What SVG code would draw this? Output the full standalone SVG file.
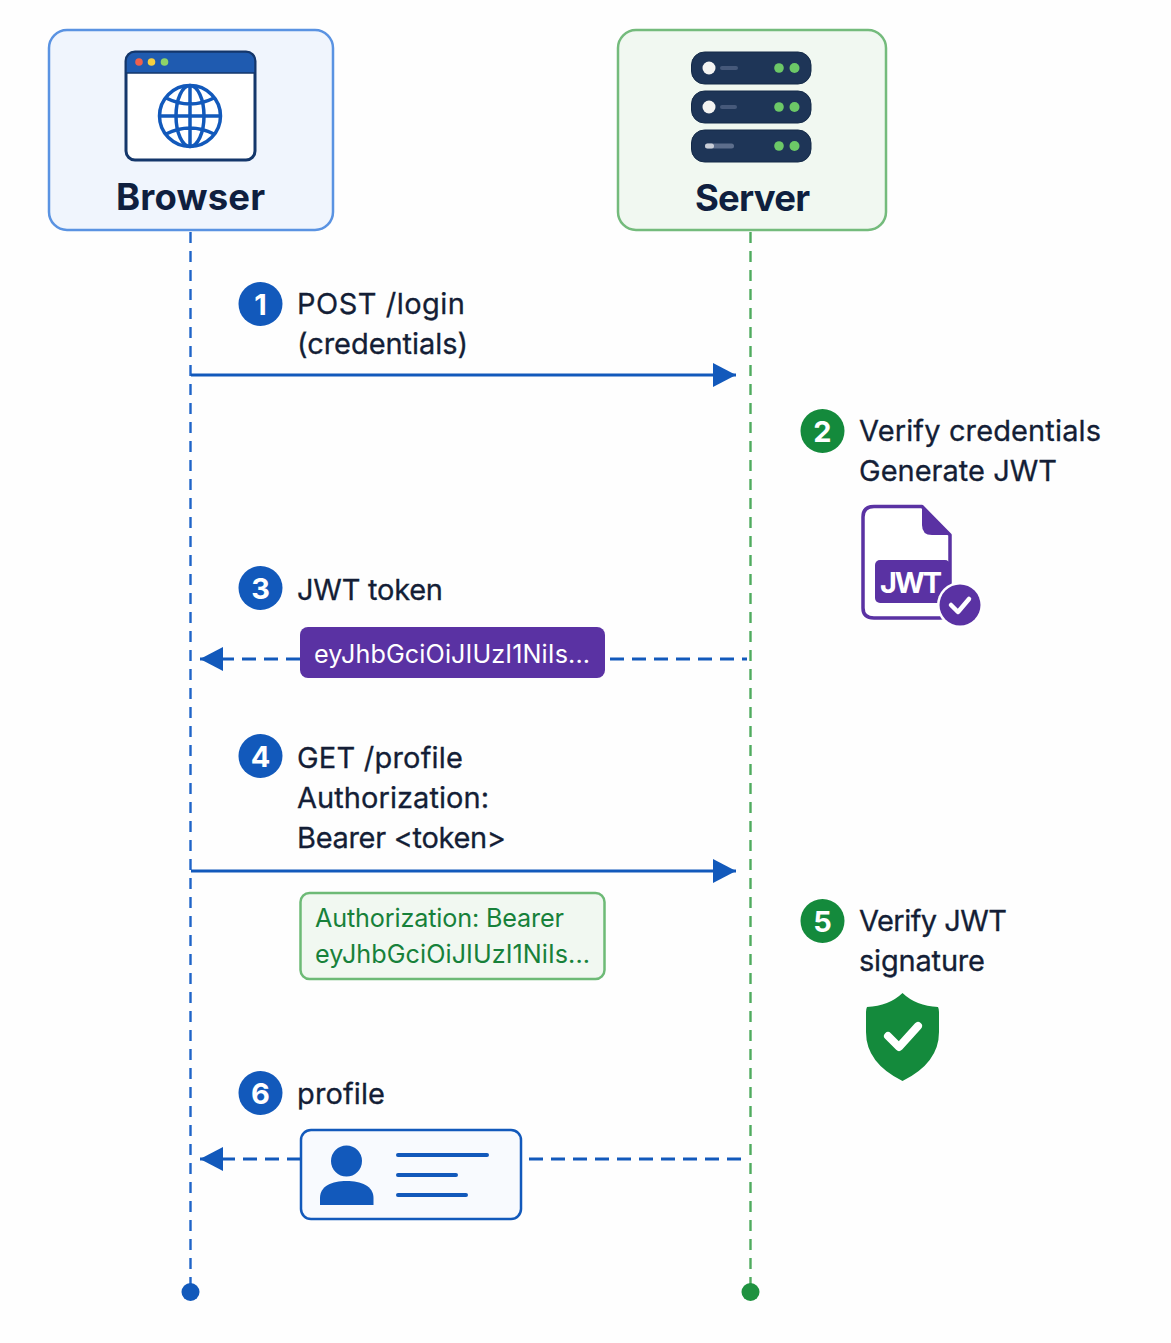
<svg xmlns="http://www.w3.org/2000/svg" width="1171" height="1343" viewBox="0 0 1171 1343">
<defs>
<style>
text{font-family:"Inter","Liberation Sans",sans-serif}
.t{font-size:29px;fill:#141e36;font-weight:400;stroke:#141e36;stroke-width:.3px;transform:translateY(-.5px)}
.h{font-size:36.500px;font-weight:700;fill:#0f1f3f;text-anchor:middle}
.n{font-size:29px;font-weight:700;fill:#fff;text-anchor:middle}
.m{font-size:25.200px}
.blue{fill:#1259bb}
.green{fill:#148a3c}
.solid{stroke:#1259bb;stroke-width:3;fill:none}
.dash{stroke:#1259bb;stroke-width:3;fill:none;stroke-dasharray:14 8}
.life{fill:none;stroke-width:2.400;stroke-dasharray:11 8}
</style>
<marker id="arrow" markerUnits="userSpaceOnUse" markerWidth="24" markerHeight="24" refX="23" refY="12" orient="auto-start-reverse"><path d="M0 0L23 12L0 24Z" fill="#1259bb"/></marker>
</defs>
<rect width="1171" height="1343" fill="#fefefe"/>
<g id="connectors">
<path class="life" d="M190.500 232V1285" stroke="#1f64c8"/>
<path class="life" d="M750.500 232V1285" stroke="#4fab5e"/>
<circle cx="190.500" cy="1292" r="9" fill="#1259bb"/>
<circle cx="750.500" cy="1292" r="9" fill="#1f9240"/>
<path class="solid" d="M191 375H736" marker-end="url(#arrow)"/>
<path class="dash" d="M300 659H200" marker-end="url(#arrow)"/>
<path class="dash" d="M610 659H747"/>
<path class="solid" d="M191 871H736" marker-end="url(#arrow)"/>
<path class="dash" d="M301 1159H200" marker-end="url(#arrow)"/>
<path class="dash" d="M741 1159H522"/>
</g>
<g id="browser">
<rect x="49" y="30" width="284" height="200" rx="18" fill="#f0f5fd" stroke="#5a93e2" stroke-width="2.500"/>
<rect x="126" y="52" width="129" height="108" rx="9" fill="#fff" stroke="#14376b" stroke-width="3"/>
<path d="M126 73V61a9 9 0 0 1 9-9h111a9 9 0 0 1 9 9v12Z" fill="#1f5bb0" stroke="#14376b" stroke-width="1.500"/>
<circle cx="139" cy="62" r="3.800" fill="#f0604c"/><circle cx="151.500" cy="62" r="3.800" fill="#f5d040"/><circle cx="164.500" cy="62" r="3.800" fill="#8ed468"/>
<g fill="none" stroke="#1259bb" stroke-width="3.500">
<circle cx="190" cy="116" r="30.500"/>
<ellipse cx="190" cy="116" rx="14" ry="30.500"/>
<path d="M190 85.500V146.500M160 116H220M166 98Q190 110 214 98M166 134Q190 122 214 134"/>
</g>
<text class="h" x="190.500" y="210" textLength="149">Browser</text>
</g>
<g id="server">
<rect x="618" y="30" width="268" height="200" rx="18" fill="#f1f8f1" stroke="#74bb7c" stroke-width="2.500"/>
<rect x="691.500" y="52" width="119.500" height="32" rx="13" fill="#1e3557" stroke="#142a48"/>
<rect x="691.500" y="91" width="119.500" height="32" rx="13" fill="#1e3557" stroke="#142a48"/>
<rect x="691.500" y="130" width="119.500" height="32" rx="13" fill="#1e3557" stroke="#142a48"/>
<circle cx="709" cy="68" r="6.500" fill="#f4f4f2"/><rect x="720" y="66" width="18" height="4" rx="2" fill="#46597a"/>
<circle cx="709" cy="107" r="6.500" fill="#f4f4f2"/><rect x="720" y="105" width="17" height="4" rx="2" fill="#46597a"/>
<rect x="705" y="143.500" width="29" height="5" rx="2.500" fill="#5d6e8c"/><rect x="705" y="143.500" width="9" height="5" rx="2.500" fill="#c9ced8"/>
<g fill="#6cc867"><circle cx="779" cy="68" r="4.800"/><circle cx="794.500" cy="68" r="5"/><circle cx="779" cy="107" r="4.800"/><circle cx="794.500" cy="107" r="5"/><circle cx="779" cy="146" r="4.800"/><circle cx="794.500" cy="146" r="5"/></g>
<text class="h" x="752.500" y="211" textLength="115">Server</text>
</g>
<g id="step1">
<circle class="blue" cx="260.500" cy="304" r="22"/><text class="n" x="260.500" y="314.500">1</text>
<text class="t" x="297" y="314" textLength="168">POST /login</text><text class="t" x="297" y="354" textLength="171">(credentials)</text>
</g>
<g id="step2">
<circle class="green" cx="822.500" cy="431" r="22"/><text class="n" x="822.500" y="441.500">2</text>
<text class="t" x="859" y="441" textLength="242">Verify credentials</text><text class="t" x="859" y="481" textLength="198">Generate JWT</text>
</g>
<g id="jwt-file">
<path d="M874 506.500H922L950 535V608Q950 618 940 618H874Q863 618 863 608V517Q863 506.500 874 506.500Z" fill="#fff" stroke="#5a32a3" stroke-width="3.500" stroke-linejoin="round"/>
<path d="M922 506.500L950 535H932Q922 535 922 525Z" fill="#5a32a3"/>
<rect x="875" y="560" width="75" height="43" rx="5" fill="#5a32a3"/>
<text x="880" y="593" font-size="29" font-weight="700" fill="#fff" textLength="62">JWT</text>
<circle cx="960" cy="605" r="23" fill="#fff"/><circle cx="960" cy="605" r="20.500" fill="#5a32a3"/>
<path d="M951 605L958 612L969 599" fill="none" stroke="#fff" stroke-width="4.500" stroke-linecap="round" stroke-linejoin="round"/>
</g>
<g id="step3">
<circle class="blue" cx="260.500" cy="588" r="22"/><text class="n" x="260.500" y="598.500">3</text>
<text class="t" x="297" y="600" textLength="146">JWT token</text>
<rect x="300" y="627" width="305" height="51" rx="8" fill="#5a32a3"/>
<text class="m" x="314" y="663" fill="#fff" textLength="276">eyJhbGciOiJIUzI1NiIs...</text>
</g>
<g id="step4">
<circle class="blue" cx="260.500" cy="756" r="22"/><text class="n" x="260.500" y="766.500">4</text>
<text class="t" x="297" y="768" textLength="166">GET /profile</text><text class="t" x="297" y="808" textLength="192">Authorization:</text><text class="t" x="297" y="848" textLength="209">Bearer &lt;token&gt;</text>
<rect x="300.500" y="893" width="304" height="86" rx="9" fill="#f1f8f1" stroke="#6dba76" stroke-width="2.500"/>
<text class="m" x="315" y="927" fill="#17813a" textLength="249">Authorization: Bearer</text>
<text class="m" x="315" y="963" fill="#17813a" textLength="275">eyJhbGciOiJIUzI1NiIs...</text>
</g>
<g id="step5">
<circle class="green" cx="822.500" cy="921" r="22"/><text class="n" x="822.500" y="931.500">5</text>
<text class="t" x="859" y="931" textLength="148">Verify JWT</text><text class="t" x="859" y="971" textLength="126">signature</text>
<path d="M902.500 993Q916 1006 938 1007Q939 1009 939 1012V1032Q939 1063 902.500 1081Q866 1063 866 1032V1012Q866 1009 867 1007Q889 1006 902.500 993Z" fill="#148a3c"/>
<path d="M888 1036L899 1047L918 1026" fill="none" stroke="#fff" stroke-width="8" stroke-linecap="round" stroke-linejoin="round"/>
</g>
<g id="step6">
<circle class="blue" cx="260.500" cy="1093" r="22"/><text class="n" x="260.500" y="1103.500">6</text>
<text class="t" x="297" y="1104" textLength="88">profile</text>
<rect x="301" y="1130" width="220" height="89" rx="10" fill="#f8fafe" stroke="#1259bb" stroke-width="2.500"/>
<circle class="blue" cx="346.500" cy="1161" r="15.500"/>
<path class="blue" d="M320 1205V1198C320 1186 332 1181 346.500 1181S373.500 1186 373.500 1198V1205Z"/>
<path d="M398 1155H487M398 1175H456M398 1195H466" fill="none" stroke="#1259bb" stroke-width="4" stroke-linecap="round"/>
</g>
</svg>
